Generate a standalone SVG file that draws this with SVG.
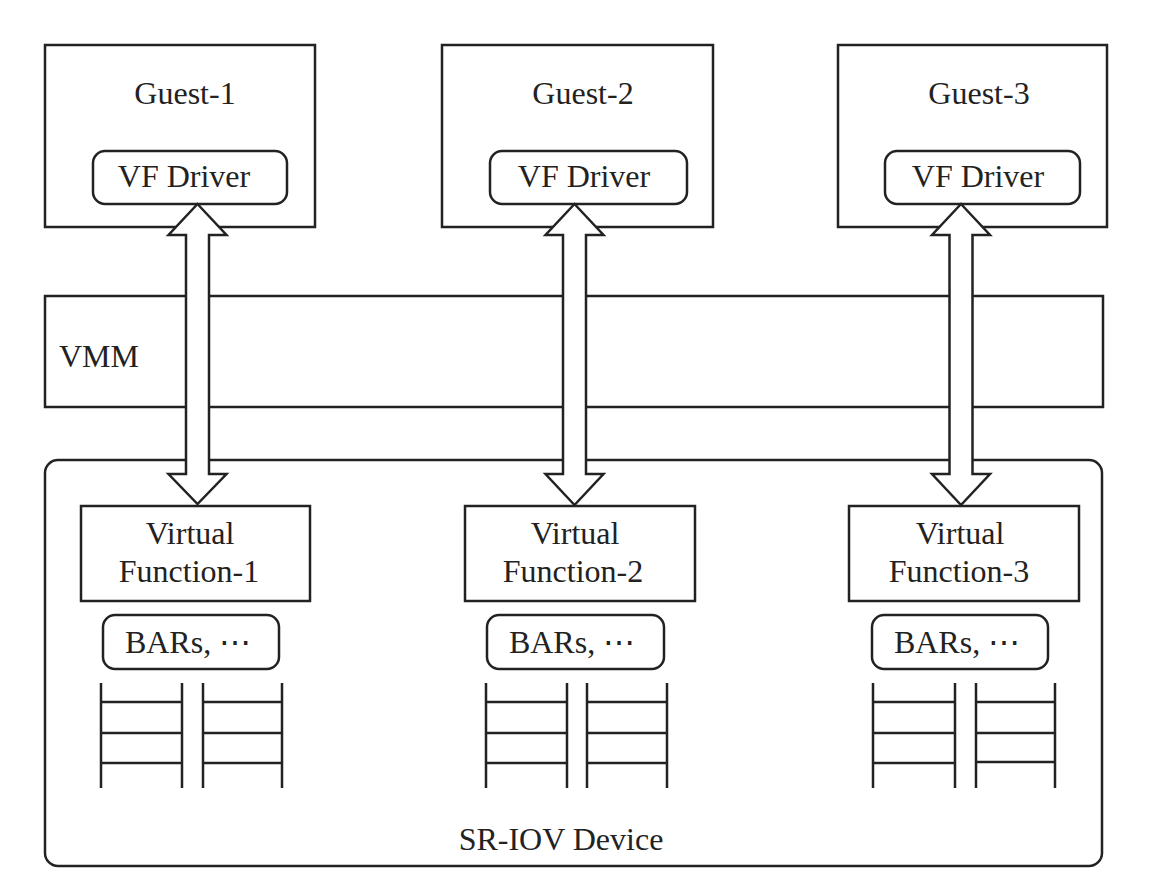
<svg xmlns="http://www.w3.org/2000/svg" width="1152" height="892" viewBox="0 0 1152 892">
<style>
.box{fill:#fff;stroke:#222;stroke-width:2.5}
.ln{stroke:#222;stroke-width:2.5;fill:none}
.t{font-family:"Liberation Serif","DejaVu Serif",serif;font-size:32px;fill:#222;text-anchor:middle}
.arr{fill:#fff;stroke:#222;stroke-width:2.5;stroke-linejoin:miter}
</style>
<rect width="1152" height="892" fill="#fff"/>
<g id="device">
<rect class="box" x="45" y="460" width="1057" height="406" rx="13"/>
<text class="t" x="561" y="850">SR-IOV Device</text>
</g>
<g id="vmm">
<rect class="box" x="45" y="296" width="1058" height="111"/>
<text class="t" x="59" y="367" text-anchor="start" style="text-anchor:start">VMM</text>
</g>
<g id="guest1">
<rect class="box" x="45" y="45" width="270" height="182"/>
<text class="t" x="185" y="104">Guest-1</text>
<rect class="box" x="93" y="151" width="194" height="53" rx="12"/>
<text class="t" x="184" y="187">VF Driver</text>
</g>
<g id="guest2">
<rect class="box" x="442" y="45" width="271" height="182"/>
<text class="t" x="583" y="104">Guest-2</text>
<rect class="box" x="490" y="151" width="197" height="53" rx="12"/>
<text class="t" x="584" y="187">VF Driver</text>
</g>
<g id="guest3">
<rect class="box" x="838" y="45" width="269" height="182"/>
<text class="t" x="979" y="104">Guest-3</text>
<rect class="box" x="885" y="151" width="195" height="53" rx="12"/>
<text class="t" x="978" y="187">VF Driver</text>
</g>
<g id="vf1">
<rect class="box" x="81" y="506" width="229" height="95"/>
<text class="t" x="190" y="544">Virtual</text>
<text class="t" x="189" y="582">Function-1</text>
<rect class="box" x="103" y="615" width="176" height="54" rx="12"/>
<text class="t" x="188" y="653">BARs, ⋯</text>
<path class="ln" d="M101,683V788M182,683V788M101,702H182M101,733H182M101,763H182M203,683V788M282,683V788M203,702H282M203,733H282M203,763H282"/>
</g>
<g id="vf2">
<rect class="box" x="465" y="506" width="230" height="95"/>
<text class="t" x="575" y="544">Virtual</text>
<text class="t" x="573" y="582">Function-2</text>
<rect class="box" x="487" y="615" width="177" height="54" rx="12"/>
<text class="t" x="572" y="653">BARs, ⋯</text>
<path class="ln" d="M486,683V788M567,683V788M486,702H567M486,733H567M486,763H567M587,683V788M667,683V788M587,702H667M587,733H667M587,763H667"/>
</g>
<g id="vf3">
<rect class="box" x="849" y="506" width="230" height="95"/>
<text class="t" x="960" y="544">Virtual</text>
<text class="t" x="959" y="582">Function-3</text>
<rect class="box" x="872" y="615" width="176" height="54" rx="12"/>
<text class="t" x="957" y="653">BARs, ⋯</text>
<path class="ln" d="M873,683V788M955,683V788M873,702H955M873,733H955M873,763H955M976,683V788M1055,683V788M976,702H1055M976,733H1055M976,762H1055"/>
</g>
<g id="connectors">
<path class="arr" d="M197.5,204L226.5,235L209,235L209,474L226.5,474L197.5,504L168.5,474L186,474L186,235L168.5,235Z"/>
<path class="arr" d="M574.5,204L603.5,235L586,235L586,474L603.5,474L574.5,505L545.5,474L563,474L563,235L545.5,235Z"/>
<path class="arr" d="M961,204L990,235L972.5,235L972.5,474L990,474L961,505L932,474L949.5,474L949.5,235L932,235Z"/>
</g>
</svg>
